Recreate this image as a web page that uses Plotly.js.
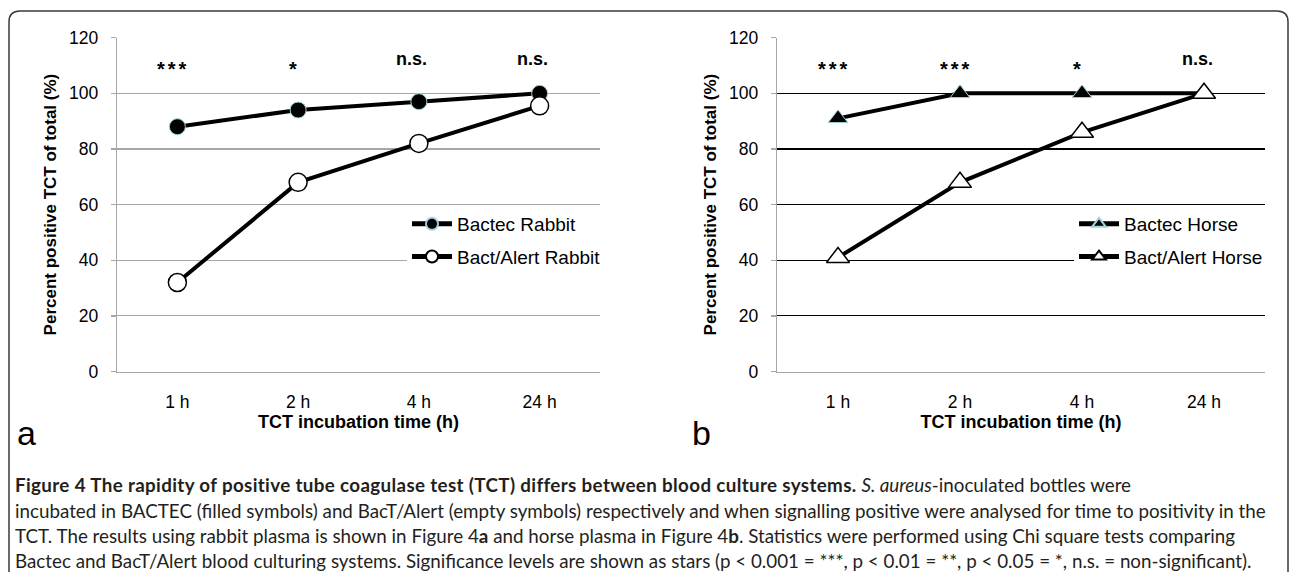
<!DOCTYPE html>
<html>
<head>
<meta charset="utf-8">
<script src="https://cdn.plot.ly/plotly-3.0.1.min.js"></script>
<style>
  html, body { margin: 0; padding: 0; background: #fff; }
  #chart { width: 1290px; height: 572px; }
</style>
</head>
<body>
<div id="chart"></div>
<script>
// ---- data ----
const categories = ['1 h', '2 h', '4 h', '24 h'];
const bactecRabbit = [88, 94, 97, 100];
const bactAlertRabbit = [32, 68, 82, 95.5];
const bactecHorse = [91, 100, 100, 100];
const bactAlertHorse = [41, 68, 86, 100];
const sigRabbit = ['***', '*', 'n.s.', 'n.s.'];
const sigHorse = ['***', '***', '*', 'n.s.'];
const yTickVals = [0, 20, 40, 60, 80, 100, 120];
const seriesNames = ['Bactec Rabbit', 'Bact/Alert Rabbit', 'Bactec Horse', 'Bact/Alert Horse'];
const xTitle = 'TCT incubation time (h)';
const yTitle = 'Percent positive TCT of total (%)';
const captionLines = [
  '<b><span style="letter-spacing:0.35px">Figure 4 The rapidity of positive tube coagulase test (TCT) differs between blood culture systems.</span></b> <i>S. aureus</i>-inoculated bottles were',
  'incubated in BACTEC (filled symbols) and BacT/Alert (empty symbols) respectively and when signalling positive were analysed for time to positivity in the',
  'TCT. The results using rabbit plasma is shown in Figure 4<b>a</b> and horse plasma in Figure 4<b>b</b>. Statistics were performed using Chi square tests comparing',
  'Bactec and BacT/Alert blood culturing systems. Significance levels are shown as stars (p &lt; 0.001 = ***, p &lt; 0.01 = **, p &lt; 0.05 = *, n.s. = non-significant).'
];

// ---- helpers (pixel -> paper) ----
const W = 1290, H = 572;
const px = x => x / W;
const py = y => 1 - y / H;

const FONT = 'Liberation Sans, Arial, sans-serif';
const LINE_W = 4;

const traces = [
  {x: categories, y: bactecRabbit, name: seriesNames[0], xaxis: 'x', yaxis: 'y', legend: 'legend', legendgroup: 'g1',
   mode: 'lines+markers', line: {color: '#000', width: LINE_W},
   marker: {symbol: 'circle', size: 16, color: '#000', line: {color: '#9fd3da', width: 1}}},
  {x: categories, y: bactAlertRabbit, name: seriesNames[1], xaxis: 'x', yaxis: 'y', legend: 'legend', legendgroup: 'g2',
   mode: 'lines+markers', line: {color: '#000', width: LINE_W},
   marker: {symbol: 'circle', size: 18, color: '#fff', line: {color: '#000', width: 1.5}}},
  {x: categories, y: bactecHorse, name: seriesNames[2], xaxis: 'x2', yaxis: 'y2', legend: 'legend2', legendgroup: 'g3',
   mode: 'lines+markers', line: {color: '#000', width: LINE_W},
   marker: {symbol: 'triangle-up', size: 17, color: '#000', line: {color: '#9fd3da', width: 1}}},
  {x: categories, y: bactAlertHorse, name: seriesNames[3], xaxis: 'x2', yaxis: 'y2', legend: 'legend2', legendgroup: 'g4',
   mode: 'lines+markers', line: {color: '#000', width: LINE_W},
   marker: {symbol: 'triangle-up', size: 20, color: '#fff', line: {color: '#000', width: 1.5}}}
];

function xAxis(domain, anchor) {
  return {
    domain: domain, anchor: anchor, type: 'category', range: [-0.5, 3.5],
    showgrid: false, zeroline: false, showline: true, linecolor: '#a6a6a6', linewidth: 1.3,
    ticks: '', tickfont: {family: FONT, size: 17.5, color: '#000'}, ticklabelstandoff: 14,
    title: {text: '<b>' + xTitle + '</b>', font: {family: FONT, size: 18, color: '#000'}, standoff: 3}
  };
}
function yAxis(domain, anchor, gridcolor) {
  return {
    domain: domain, anchor: anchor, range: [0, 120], tickvals: yTickVals,
    showgrid: true, gridcolor: gridcolor, gridwidth: 1.2, zeroline: false,
    showline: true, linecolor: '#a6a6a6', linewidth: 1.3,
    ticks: 'outside', ticklen: 5, tickcolor: '#a6a6a6', tickwidth: 1.3,
    tickfont: {family: FONT, size: 17.5, color: '#000'}, ticklabelstandoff: 9,
    title: {text: '<b>' + yTitle + '</b>', font: {family: FONT, size: 17, color: '#000'}, standoff: 8}
  };
}

const yDom = [py(371.5), py(37.7)];
const annotations = [];
function addSig(labels, xref, yref) {
  labels.forEach((t, i) => {
    const isStar = t.indexOf('*') >= 0;
    annotations.push({
      x: categories[i], y: isStar ? 108.6 : 112.3, xref: xref, yref: yref,
      text: isStar ? '<span style="letter-spacing:3px">' + t + '</span>' : t,
      showarrow: false, xanchor: 'center', yanchor: 'middle', xshift: isStar ? -4 : -7,
      font: {family: FONT, size: isStar ? 20 : 18, color: '#000', weight: 'bold'}
    });
  });
}
addSig(sigRabbit, 'x', 'y');
addSig(sigHorse, 'x2', 'y2');

annotations.push({x: px(15), y: py(433), xref: 'paper', yref: 'paper', text: 'a', showarrow: false,
  xanchor: 'left', yanchor: 'middle', font: {family: FONT, size: 34, color: '#000'}});
annotations.push({x: px(690), y: py(433), xref: 'paper', yref: 'paper', text: 'b', showarrow: false,
  xanchor: 'left', yanchor: 'middle', font: {family: FONT, size: 34, color: '#000'}});

const capY = [484, 510, 535, 560];
captionLines.forEach((t, i) => {
  annotations.push({x: px(13), y: py(capY[i]), xref: 'paper', yref: 'paper', text: t, showarrow: false,
    xanchor: 'left', yanchor: 'middle', align: 'left', font: {family: 'Lato, sans-serif', size: 18.8, color: '#231f20'}});
});

const r = 11;
const L = 9, T = 11, R = 1288, B = 600;
const frame = 'M' + px(L) + ',' + py(B) +
  ' L' + px(L) + ',' + py(T + r) +
  ' Q' + px(L) + ',' + py(T) + ' ' + px(L + r) + ',' + py(T) +
  ' L' + px(R - r) + ',' + py(T) +
  ' Q' + px(R) + ',' + py(T) + ' ' + px(R) + ',' + py(T + r) +
  ' L' + px(R) + ',' + py(B);

const layout = {
  width: W, height: H, margin: {l: 0, r: 0, t: 0, b: 0},
  paper_bgcolor: '#fff', plot_bgcolor: 'rgba(0,0,0,0)',
  font: {family: FONT, color: '#000'},
  xaxis: xAxis([px(117), px(600)], 'y'),
  yaxis: yAxis(yDom, 'x', '#a6a6a6'),
  xaxis2: xAxis([px(777), px(1265)], 'y2'),
  yaxis2: yAxis(yDom, 'x2', '#000'),
  showlegend: true,
  legend: {x: px(407), y: py(205), xanchor: 'left', yanchor: 'top', bgcolor: '#fff',
    font: {family: FONT, size: 19, color: '#000'}, itemsizing: 'constant', itemwidth: 40,
    tracegroupgap: 5},
  legend2: {x: px(1074), y: py(205), xanchor: 'left', yanchor: 'top', bgcolor: '#fff',
    font: {family: FONT, size: 19, color: '#000'}, itemsizing: 'constant', itemwidth: 40,
    tracegroupgap: 5},
  annotations: annotations,
  shapes: [{type: 'path', xref: 'paper', yref: 'paper', path: frame,
    line: {color: '#3a3a3a', width: 1.5}}]
};

Plotly.newPlot('chart', traces, layout, {staticPlot: true, displayModeBar: false});
</script>
</body>
</html>
